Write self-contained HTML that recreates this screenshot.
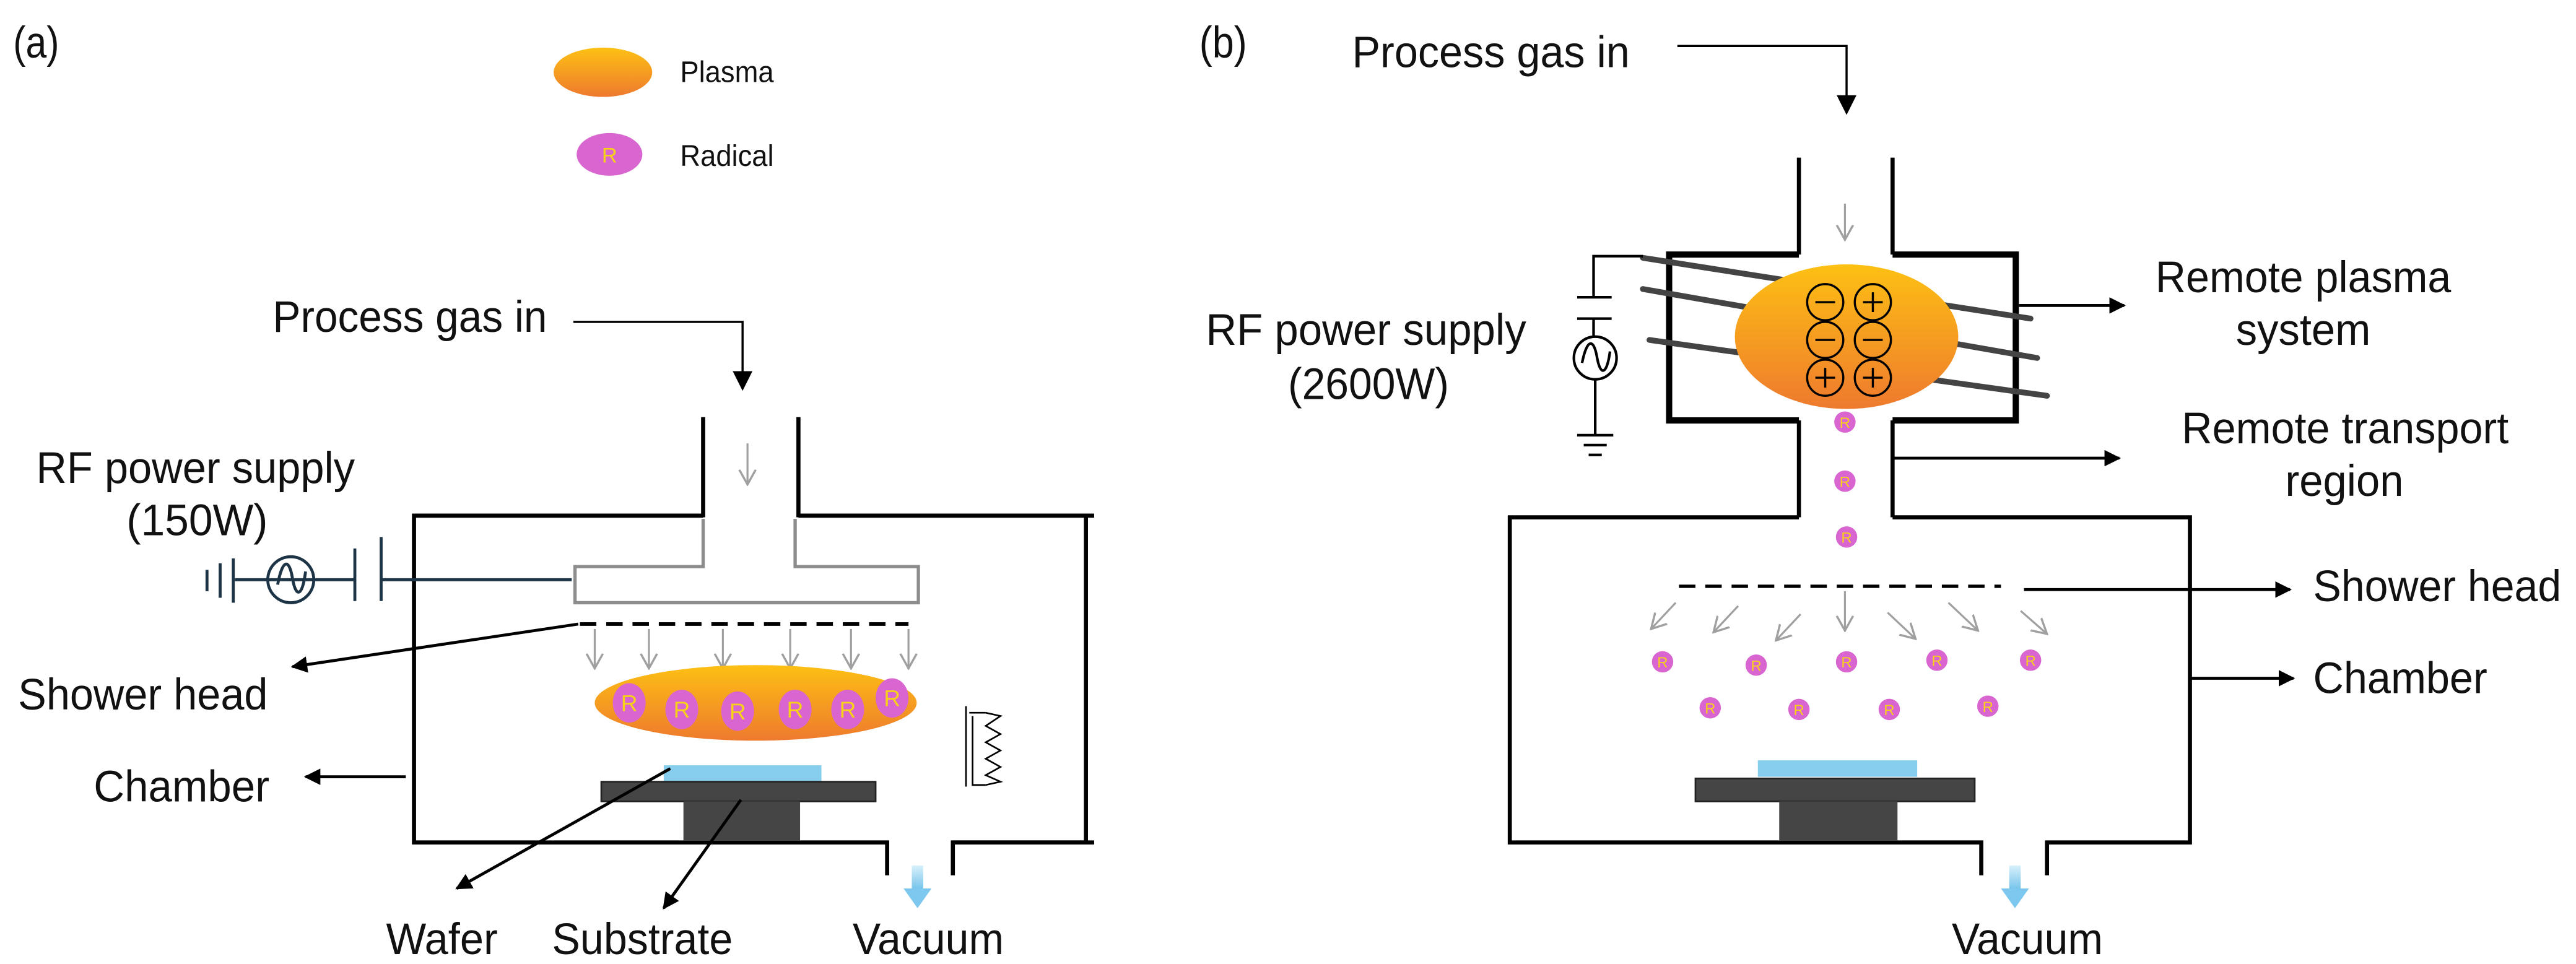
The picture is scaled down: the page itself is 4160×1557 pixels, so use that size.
<!DOCTYPE html>
<html><head><meta charset="utf-8"><style>
html,body{margin:0;padding:0;background:#fff;}
svg{display:block;}
text{font-family:"Liberation Sans",Arial,sans-serif;fill:#111;}
</style></head><body>
<svg width="4160" height="1557" viewBox="0 0 1568 587" preserveAspectRatio="none" xmlns="http://www.w3.org/2000/svg">
<defs>
<linearGradient id="pl" x1="0" y1="0" x2="0" y2="1"><stop offset="0" stop-color="#fdc013"/><stop offset="1" stop-color="#ee7a2e"/></linearGradient>
<linearGradient id="vb" x1="0" y1="0" x2="0" y2="1"><stop offset="0" stop-color="#d8f0fb"/><stop offset="1" stop-color="#6cc0ea"/></linearGradient>
<marker id="ah" markerWidth="10" markerHeight="10" refX="9" refY="5" orient="auto" markerUnits="userSpaceOnUse"><path d="M0,0 L10,5 L0,10 z" fill="#000"/></marker>
<marker id="ga" markerWidth="10" markerHeight="12" refX="9" refY="6" orient="auto" markerUnits="userSpaceOnUse"><path d="M0,1 L9,6 L0,11" fill="none" stroke="#a0a0a0" stroke-width="1.3"/></marker>
<g id="rs"><circle r="6.5" fill="#d966d0"/><text y="3.5" text-anchor="middle" font-size="9" style="fill:#f7d217">R</text></g>
<g id="rb"><ellipse rx="10" ry="12" fill="#d966d0"/><text y="5" text-anchor="middle" font-size="14" style="fill:#f7d217">R</text></g>
</defs>

<!-- ===== Panel (a) ===== -->
<text x="8" y="35" font-size="27" textLength="28" lengthAdjust="spacingAndGlyphs">(a)</text>
<ellipse cx="367" cy="44" rx="30" ry="15" fill="url(#pl)"/>
<text x="414" y="50" font-size="18" textLength="57" lengthAdjust="spacingAndGlyphs">Plasma</text>
<ellipse cx="371" cy="94" rx="20" ry="13" fill="#d966d0"/>
<text x="371" y="99" text-anchor="middle" font-size="13" style="fill:#f7d217">R</text>
<text x="414" y="101" font-size="18" textLength="57" lengthAdjust="spacingAndGlyphs">Radical</text>

<text x="166" y="202" font-size="27" textLength="167" lengthAdjust="spacingAndGlyphs">Process gas in</text>
<polyline points="349,196 452,196 452,228" fill="none" stroke="#000" stroke-width="1.3"/>
<path d="M446,226 L458,226 L452,238 z" fill="#000"/>

<g stroke="#000" stroke-width="2.5" fill="none">
<line x1="428" y1="254" x2="428" y2="315"/>
<line x1="486" y1="254" x2="486" y2="315"/>
<polyline points="428,314 252,314 252,513 540,513 540,533"/>
<polyline points="486,314 666,314"/>
<polyline points="661,314 661,513 580,513 580,533"/>
<line x1="580" y1="513" x2="666" y2="513"/>
</g>
<polyline points="428,316 428,345 350,345 350,367 559,367 559,345 484,345 484,316" fill="none" stroke="#8c8c8c" stroke-width="2"/>
<line x1="455" y1="270" x2="455" y2="295" stroke="#a0a0a0" stroke-width="1.2" marker-end="url(#ga)"/>

<text x="22" y="294" font-size="27" textLength="194" lengthAdjust="spacingAndGlyphs">RF power supply</text>
<text x="77" y="326" font-size="27" textLength="86" lengthAdjust="spacingAndGlyphs">(150W)</text>
<g stroke="#1d3447" stroke-width="1.8" fill="none">
<line x1="232" y1="353" x2="348" y2="353"/>
<line x1="232" y1="327" x2="232" y2="366"/>
<line x1="216" y1="334" x2="216" y2="366"/>
<line x1="143" y1="353" x2="216" y2="353"/>
<circle cx="177" cy="353" r="14"/>
<path d="M169,356 C172,340 176,340 178,352 C180,364 184,364 186,348"/>
<line x1="142" y1="340" x2="142" y2="367"/>
<line x1="134" y1="343" x2="134" y2="364"/>
<line x1="126" y1="347" x2="126" y2="360"/>
</g>

<line x1="353" y1="380" x2="553" y2="380" stroke="#000" stroke-width="2.2" stroke-dasharray="10,6"/>
<g stroke="#a0a0a0" stroke-width="1.2">
<line x1="362" y1="383" x2="362" y2="407" marker-end="url(#ga)"/>
<line x1="395" y1="383" x2="395" y2="407" marker-end="url(#ga)"/>
<line x1="440" y1="383" x2="440" y2="407" marker-end="url(#ga)"/>
<line x1="481" y1="383" x2="481" y2="407" marker-end="url(#ga)"/>
<line x1="518" y1="383" x2="518" y2="407" marker-end="url(#ga)"/>
<line x1="553" y1="383" x2="553" y2="407" marker-end="url(#ga)"/>
</g>
<ellipse cx="460" cy="428" rx="98" ry="23" fill="url(#pl)"/>
<use href="#rb" x="383" y="428"/>
<use href="#rb" x="415" y="432"/>
<use href="#rb" x="449" y="433"/>
<use href="#rb" x="484" y="432"/>
<use href="#rb" x="516" y="432"/>
<use href="#rb" x="543" y="425"/>

<g stroke="#000" stroke-width="1" fill="none">
<line x1="588" y1="430" x2="588" y2="479"/>
<line x1="590" y1="434" x2="600" y2="434"/>
<polyline points="592,436 592,478 600,478"/>
<path d="M600,434 L609,436 L600,442 L609,447 L600,452 L609,457 L600,462 L609,467 L600,472 L609,476 L600,478"/>
</g>

<rect x="404" y="466" width="96" height="10" fill="#86cdee"/>
<rect x="366" y="476" width="167" height="12" fill="#454545" stroke="#222" stroke-width="1"/>
<rect x="416" y="488" width="71" height="24" fill="#454545"/>

<rect x="555" y="527" width="7" height="16" fill="url(#vb)"/>
<path d="M550,541 L567,541 L558.5,553 z" fill="#7cc8ee"/>

<g stroke="#000" stroke-width="1.8" fill="none">
<line x1="352" y1="380" x2="178" y2="406" marker-end="url(#ah)"/>
<line x1="247" y1="473" x2="186" y2="473" marker-end="url(#ah)"/>
<line x1="408" y1="468" x2="278" y2="541" marker-end="url(#ah)"/>
<line x1="451" y1="487" x2="404" y2="553" marker-end="url(#ah)"/>
</g>
<text x="11" y="432" font-size="27" textLength="152" lengthAdjust="spacingAndGlyphs">Shower head</text>
<text x="57" y="488" font-size="27" textLength="107" lengthAdjust="spacingAndGlyphs">Chamber</text>
<text x="235" y="581" font-size="27" textLength="68" lengthAdjust="spacingAndGlyphs">Wafer</text>
<text x="336" y="581" font-size="27" textLength="110" lengthAdjust="spacingAndGlyphs">Substrate</text>
<text x="519" y="581" font-size="27" textLength="92" lengthAdjust="spacingAndGlyphs">Vacuum</text>

<!-- ===== Panel (b) ===== -->
<text x="730" y="35" font-size="27" textLength="29" lengthAdjust="spacingAndGlyphs">(b)</text>
<text x="823" y="41" font-size="27" textLength="169" lengthAdjust="spacingAndGlyphs">Process gas in</text>
<polyline points="1021,28 1124,28 1124,60" fill="none" stroke="#000" stroke-width="1.3"/>
<path d="M1118,58 L1130,58 L1124,70 z" fill="#000"/>

<g stroke="#000" fill="none">
<line x1="1095" y1="96" x2="1095" y2="155" stroke-width="2.5"/>
<line x1="1152" y1="96" x2="1152" y2="155" stroke-width="2.5"/>
<polyline points="1095,155 1016,155 1016,256 1095,256" stroke-width="3.8"/>
<polyline points="1152,155 1227,155 1227,256 1152,256" stroke-width="3.8"/>
<line x1="1095" y1="256" x2="1095" y2="315" stroke-width="2.5"/>
<line x1="1152" y1="256" x2="1152" y2="315" stroke-width="2.5"/>
<polyline points="1095,315 919,315 919,513 1206,513 1206,533" stroke-width="2.5"/>
<polyline points="1152,315 1333,315 1333,513 1246,513 1246,533" stroke-width="2.5"/>
</g>
<line x1="1123" y1="124" x2="1123" y2="146" stroke="#a0a0a0" stroke-width="1.2" marker-end="url(#ga)"/>

<g stroke="#444" stroke-width="3.5" stroke-linecap="round">
<line x1="1000" y1="157" x2="1236" y2="194"/>
<line x1="1000" y1="176" x2="1240" y2="218"/>
<line x1="1004" y1="207" x2="1246" y2="241"/>
</g>
<ellipse cx="1124" cy="205" rx="68" ry="44" fill="url(#pl)"/>
<g stroke="#000" stroke-width="1.3" fill="none">
<circle cx="1111" cy="184" r="11"/><circle cx="1140" cy="184" r="11"/>
<circle cx="1111" cy="207" r="11"/><circle cx="1140" cy="207" r="11"/>
<circle cx="1111" cy="230" r="11"/><circle cx="1140" cy="230" r="11"/>
<line x1="1105" y1="184" x2="1117" y2="184"/>
<line x1="1134" y1="184" x2="1146" y2="184"/><line x1="1140" y1="178" x2="1140" y2="190"/>
<line x1="1105" y1="207" x2="1117" y2="207"/>
<line x1="1134" y1="207" x2="1146" y2="207"/>
<line x1="1105" y1="230" x2="1117" y2="230"/><line x1="1111" y1="224" x2="1111" y2="236"/>
<line x1="1134" y1="230" x2="1146" y2="230"/><line x1="1140" y1="224" x2="1140" y2="236"/>
</g>

<text x="734" y="210" font-size="27" textLength="195" lengthAdjust="spacingAndGlyphs">RF power supply</text>
<text x="784" y="243" font-size="27" textLength="98" lengthAdjust="spacingAndGlyphs">(2600W)</text>
<g stroke="#000" stroke-width="1.6" fill="none">
<polyline points="1000,156 970,156 970,181"/>
<line x1="960" y1="181" x2="981" y2="181"/>
<line x1="960" y1="194" x2="981" y2="194"/>
<line x1="970" y1="194" x2="970" y2="205"/>
<circle cx="971" cy="218" r="13"/>
<path d="M963,221 C966,206 970,206 972,217 C974,229 978,229 980,214"/>
<line x1="971" y1="231" x2="971" y2="265"/>
<line x1="960" y1="265" x2="982" y2="265"/>
<line x1="964" y1="271" x2="978" y2="271"/>
<line x1="967" y1="277" x2="975" y2="277"/>
</g>

<use href="#rs" x="1123" y="257"/>
<use href="#rs" x="1123" y="293"/>
<use href="#rs" x="1124" y="327"/>
<use href="#rs" x="1012" y="403"/>
<use href="#rs" x="1069" y="405"/>
<use href="#rs" x="1124" y="403"/>
<use href="#rs" x="1179" y="402"/>
<use href="#rs" x="1236" y="402"/>
<use href="#rs" x="1041" y="431"/>
<use href="#rs" x="1095" y="432"/>
<use href="#rs" x="1150" y="432"/>
<use href="#rs" x="1210" y="430"/>

<line x1="1022" y1="357" x2="1218" y2="357" stroke="#000" stroke-width="2" stroke-dasharray="10,6"/>
<g stroke="#a0a0a0" stroke-width="1.2">
<line x1="1020" y1="367" x2="1005" y2="383" marker-end="url(#ga)"/>
<line x1="1058" y1="369" x2="1043" y2="385" marker-end="url(#ga)"/>
<line x1="1096" y1="374" x2="1081" y2="390" marker-end="url(#ga)"/>
<line x1="1123" y1="360" x2="1123" y2="384" marker-end="url(#ga)"/>
<line x1="1149" y1="373" x2="1166" y2="389" marker-end="url(#ga)"/>
<line x1="1186" y1="367" x2="1204" y2="384" marker-end="url(#ga)"/>
<line x1="1230" y1="372" x2="1246" y2="386" marker-end="url(#ga)"/>
</g>

<rect x="1070" y="463" width="97" height="10" fill="#86cdee"/>
<rect x="1032" y="474" width="170" height="14" fill="#454545" stroke="#222" stroke-width="1"/>
<rect x="1083" y="488" width="72" height="24" fill="#454545"/>

<rect x="1223" y="527" width="7" height="16" fill="url(#vb)"/>
<path d="M1218,541 L1235,541 L1226.5,553 z" fill="#7cc8ee"/>

<g stroke="#000" stroke-width="1.8" fill="none">
<line x1="1229" y1="186" x2="1293" y2="186" marker-end="url(#ah)"/>
<line x1="1152" y1="279" x2="1290" y2="279" marker-end="url(#ah)"/>
<line x1="1232" y1="359" x2="1394" y2="359" marker-end="url(#ah)"/>
<line x1="1333" y1="413" x2="1396" y2="413" marker-end="url(#ah)"/>
</g>
<text x="1312" y="178" font-size="27" textLength="180" lengthAdjust="spacingAndGlyphs">Remote plasma</text>
<text x="1361" y="210" font-size="27" textLength="82" lengthAdjust="spacingAndGlyphs">system</text>
<text x="1328" y="270" font-size="27" textLength="199" lengthAdjust="spacingAndGlyphs">Remote transport</text>
<text x="1391" y="302" font-size="27" textLength="72" lengthAdjust="spacingAndGlyphs">region</text>
<text x="1408" y="366" font-size="27" textLength="151" lengthAdjust="spacingAndGlyphs">Shower head</text>
<text x="1408" y="422" font-size="27" textLength="106" lengthAdjust="spacingAndGlyphs">Chamber</text>
<text x="1188" y="581" font-size="27" textLength="92" lengthAdjust="spacingAndGlyphs">Vacuum</text>
</svg>
</body></html>
